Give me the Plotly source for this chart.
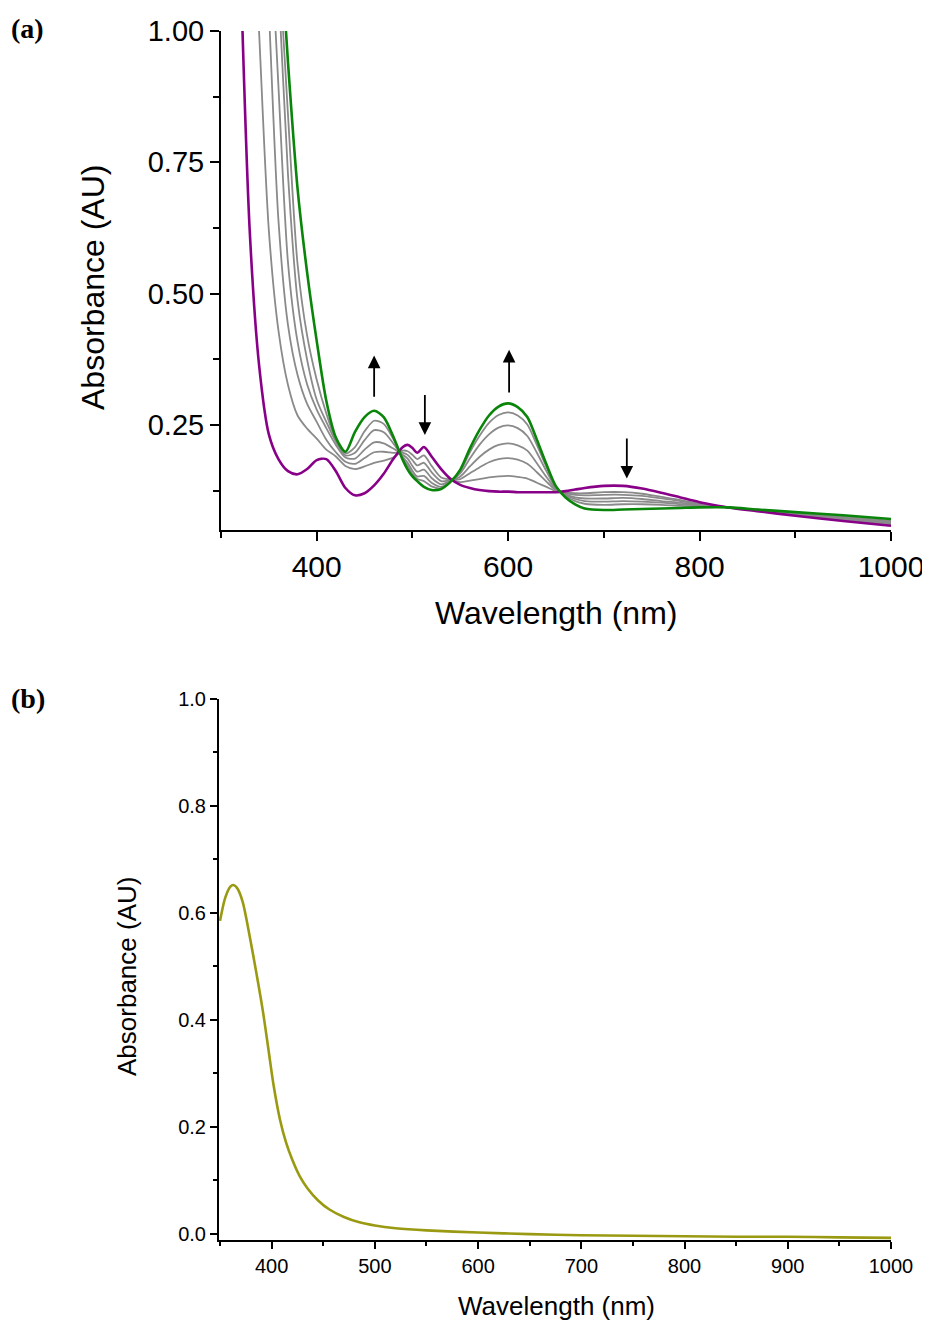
import plotly.graph_objects as go

# The page body adds an 8px margin, so the figure is laid out in page pixels minus that offset.
OFF = 8
W, H = 930 - OFF, 1321 - OFF


def fx(px):
    return (px - OFF) / W


def fy(py):
    return 1 - (py - OFF) / H


# ---------------- Panel (a) data ----------------
wl_a = [320, 330, 340, 350, 360, 370, 380, 390, 400, 410,
        420, 430, 440, 450, 460, 470, 480, 490, 495, 500,
        505, 512, 520, 530, 540, 550, 560, 570, 580, 590,
        600, 610, 620, 630, 640, 650, 660, 670, 680, 700,
        720, 740, 760, 780, 800, 830, 860, 900, 950, 1000]

purple = [1.15, 0.62, 0.36, 0.232, 0.185, 0.162, 0.156, 0.166, 0.183, 0.185,
          0.162, 0.130, 0.116, 0.120, 0.135, 0.157, 0.185, 0.208, 0.212, 0.206,
          0.197, 0.208, 0.190, 0.166, 0.147, 0.136, 0.130, 0.126, 0.124, 0.123,
          0.123, 0.122, 0.122, 0.122, 0.122, 0.122, 0.124, 0.127, 0.130, 0.134,
          0.134, 0.129, 0.121, 0.112, 0.103, 0.093, 0.086, 0.077, 0.067, 0.058]

gray1 = [None, 1.38, 0.99, 0.62, 0.43, 0.326, 0.268, 0.243, 0.224, 0.203,
         0.190, 0.172, 0.166, 0.171, 0.178, 0.182, 0.188, 0.201, 0.200, 0.193,
         0.185, 0.192, 0.172, 0.150, 0.146, 0.141, 0.144, 0.147, 0.150, 0.152,
         0.153, 0.151, 0.148, 0.140, 0.132, 0.124, 0.121, 0.120, 0.120, 0.122,
         0.122, 0.119, 0.113, 0.107, 0.100, 0.093, 0.087, 0.078, 0.069, 0.060]

gray2 = [None, None, 1.44, 1.04, 0.64, 0.44, 0.345, 0.290, 0.256, 0.222,
         0.198, 0.180, 0.176, 0.187, 0.198, 0.199, 0.197, 0.197, 0.193, 0.183,
         0.173, 0.178, 0.160, 0.143, 0.145, 0.147, 0.158, 0.169, 0.179, 0.185,
         0.187, 0.184, 0.176, 0.160, 0.142, 0.126, 0.120, 0.117, 0.116, 0.117,
         0.117, 0.115, 0.110, 0.105, 0.099, 0.093, 0.087, 0.079, 0.070, 0.062]

gray3 = [None, None, None, 1.25, 0.895, 0.559, 0.408, 0.327, 0.279, 0.244,
         0.212, 0.188, 0.186, 0.203, 0.217, 0.215, 0.205, 0.193, 0.186, 0.172,
         0.161, 0.165, 0.149, 0.137, 0.144, 0.152, 0.171, 0.189, 0.203, 0.212,
         0.215, 0.211, 0.201, 0.177, 0.151, 0.128, 0.118, 0.112, 0.110, 0.110,
         0.111, 0.109, 0.105, 0.102, 0.098, 0.093, 0.088, 0.080, 0.072, 0.064]

gray4 = [None, None, None, 1.40, 1.09, 0.726, 0.487, 0.374, 0.298, 0.256,
         0.218, 0.192, 0.197, 0.221, 0.240, 0.236, 0.215, 0.189, 0.178, 0.163,
         0.152, 0.153, 0.140, 0.132, 0.143, 0.158, 0.186, 0.212, 0.232, 0.245,
         0.249, 0.244, 0.229, 0.197, 0.162, 0.130, 0.116, 0.109, 0.105, 0.104,
         0.105, 0.104, 0.102, 0.099, 0.097, 0.093, 0.088, 0.081, 0.074, 0.066]

gray5 = [None, None, None, None, 1.15, 0.84, 0.556, 0.42, 0.336, 0.272,
         0.222, 0.196, 0.208, 0.238, 0.258, 0.252, 0.223, 0.186, 0.172, 0.157,
         0.147, 0.143, 0.133, 0.129, 0.142, 0.162, 0.198, 0.229, 0.254, 0.269,
         0.274, 0.268, 0.251, 0.212, 0.170, 0.132, 0.115, 0.105, 0.100, 0.098,
         0.099, 0.099, 0.098, 0.096, 0.095, 0.093, 0.089, 0.082, 0.075, 0.068]

green = [None, None, None, None, 1.22, 0.94, 0.70, 0.54, 0.41, 0.296,
         0.226, 0.199, 0.237, 0.265, 0.277, 0.265, 0.228, 0.183, 0.165, 0.152,
         0.143, 0.132, 0.126, 0.128, 0.142, 0.165, 0.205, 0.240, 0.268, 0.285,
         0.291, 0.284, 0.265, 0.222, 0.175, 0.133, 0.112, 0.099, 0.091, 0.088,
         0.089, 0.090, 0.091, 0.092, 0.093, 0.093, 0.089, 0.084, 0.078, 0.071]

# arrows: wavelength, tail value, head value
arrow_wl = [460, 513, 601, 724]
arrow_tail = [0.301, 0.310, 0.309, 0.227]
arrow_head = [0.382, 0.231, 0.393, 0.148]

a_xticks = [400, 600, 800, 1000]
a_yticks = [0.25, 0.50, 0.75, 1.00]

# ---------------- Panel (b) data ----------------
wl_b = [350, 355, 360, 363, 367, 372, 377, 382, 387, 392,
        397, 402, 408, 414, 420, 427, 435, 445, 456, 470,
        485, 500, 520, 550, 600, 650, 700, 750, 800, 850,
        900, 950, 1000]
abs_b = [0.585, 0.628, 0.649, 0.652, 0.645, 0.620, 0.574, 0.522, 0.468, 0.410,
         0.343, 0.276, 0.214, 0.170, 0.138, 0.108, 0.084, 0.062, 0.045, 0.031,
         0.021, 0.015, 0.010, 0.006, 0.002, -0.001, -0.003, -0.004, -0.005, -0.006,
         -0.006, -0.007, -0.008]

b_xticks = [400, 500, 600, 700, 800, 900, 1000]
b_yticks = [0.0, 0.2, 0.4, 0.6, 0.8, 1.0]

SANS = "Liberation Sans, Arial, sans-serif"
SERIF = "Liberation Serif, Times New Roman, serif"

fig = go.Figure()

gray_col = "#8a8a8a"
for g in [gray1, gray2, gray3, gray4, gray5]:
    fig.add_trace(go.Scatter(x=wl_a, y=g, mode="lines",
                             line=dict(color=gray_col, width=1.8, shape="spline", smoothing=0.8),
                             xaxis="x", yaxis="y", showlegend=False, hoverinfo="skip"))
fig.add_trace(go.Scatter(x=wl_a, y=purple, mode="lines",
                         line=dict(color="#880088", width=2.6, shape="spline", smoothing=0.8),
                         xaxis="x", yaxis="y", showlegend=False))
fig.add_trace(go.Scatter(x=wl_a, y=green, mode="lines",
                         line=dict(color="#098509", width=2.6, shape="spline", smoothing=0.8),
                         xaxis="x", yaxis="y", showlegend=False))

fig.add_trace(go.Scatter(x=wl_b, y=abs_b, mode="lines",
                         line=dict(color="#9a9a12", width=2.6, shape="spline", smoothing=0.8),
                         xaxis="x2", yaxis="y2", showlegend=False))

annotations = []
for xw, yt, yh in zip(arrow_wl, arrow_tail, arrow_head):
    annotations.append(dict(x=xw, y=yh, ax=xw, ay=yt, xref="x", yref="y",
                            axref="x", ayref="y", text="", showarrow=True,
                            arrowhead=2, arrowsize=1.4, arrowwidth=1.8, arrowcolor="black",
                            standoff=0, startstandoff=0))


def txt(text, xpx, ypx, size, family=SANS, angle=0, xanchor="center"):
    return dict(x=fx(xpx), y=fy(ypx), xref="paper", yref="paper", text=text,
                showarrow=False, xanchor=xanchor, yanchor="middle", textangle=angle,
                font=dict(family=family, size=size, color="black"))


annotations += [
    txt("<b>(a)</b>", 9, 29, 28, family=SERIF, xanchor="left"),
    txt("<b>(b)</b>", 9, 699, 28, family=SERIF, xanchor="left"),
    txt("Wavelength (nm)", 556, 613, 32),
    txt("Absorbance (AU)", 93, 288, 32, angle=-90),
    txt("Wavelength (nm)", 556, 1306, 26),
    txt("Absorbance (AU)", 127, 977, 26, angle=-90),
]

axis_common = dict(showgrid=False, zeroline=False, showline=True, linecolor="black",
                   ticks="outside", tickcolor="black", mirror=False, automargin=False)

fig.update_layout(
    width=W, height=H,
    margin=dict(l=0, r=0, t=0, b=0, autoexpand=False),
    paper_bgcolor="white", plot_bgcolor="white",
    showlegend=False,
    annotations=annotations,
    xaxis=dict(**axis_common, domain=[fx(221), fx(891)], range=[300, 1000],
               tickvals=a_xticks, ticklen=9, tickwidth=2, linewidth=2,
               minor=dict(dtick=100, tick0=300, ticklen=6, tickwidth=2, ticks="outside", tickcolor="black"),
               tickfont=dict(family=SANS, size=30, color="black"),
               anchor="y"),
    yaxis=dict(**axis_common, domain=[fy(530), fy(31)], range=[0.05, 1.0],
               tickvals=a_yticks, tickformat=".2f", ticklen=9, tickwidth=2, linewidth=2,
               minor=dict(dtick=0.125, tick0=0, ticklen=6, tickwidth=2, ticks="outside", tickcolor="black"),
               tickfont=dict(family=SANS, size=29, color="black"),
               anchor="x"),
    xaxis2=dict(**axis_common, domain=[fx(219), fx(891)], range=[349, 1000],
                tickvals=b_xticks, ticklen=7, tickwidth=2, linewidth=2,
                minor=dict(dtick=50, tick0=350, ticklen=4, tickwidth=2, ticks="outside", tickcolor="black"),
                tickfont=dict(family=SANS, size=20, color="black"),
                anchor="y2"),
    yaxis2=dict(**axis_common, domain=[fy(1240), fy(699)], range=[-0.012, 1.0],
                tickvals=b_yticks, tickformat=".1f", ticklen=7, tickwidth=2, linewidth=2,
                minor=dict(dtick=0.1, tick0=0, ticklen=4, tickwidth=2, ticks="outside", tickcolor="black"),
                tickfont=dict(family=SANS, size=20, color="black"),
                anchor="x2"),
)

fig.write_html("out.html")
